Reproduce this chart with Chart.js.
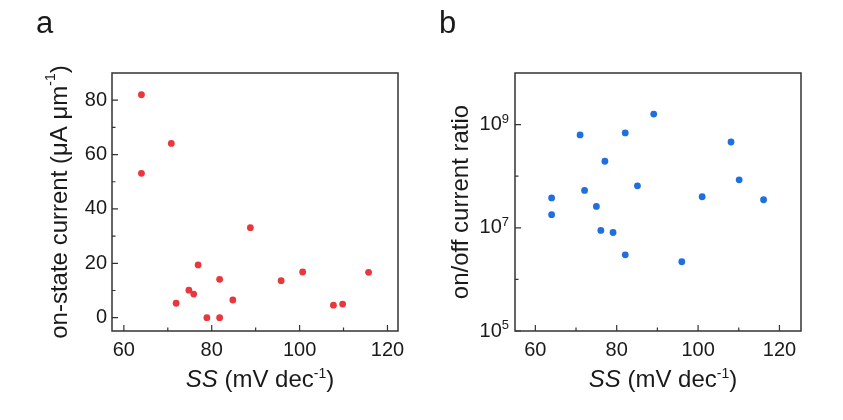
<!DOCTYPE html>
<html>
<head>
<meta charset="utf-8">
<script src="https://cdn.jsdelivr.net/npm/chart.js@4.4.1/dist/chart.umd.min.js"></script>
<style>
  html, body { margin: 0; padding: 0; background: #fff; }
  #wrap { position: relative; width: 843px; height: 420px; }
  canvas { position: absolute; top: 0; }
  #chartA { left: 0; }
  #chartB { left: 421px; }
</style>
</head>
<body>
<div id="wrap">
  <canvas id="chartA" width="421" height="420"></canvas>
  <canvas id="chartB" width="422" height="420"></canvas>
</div>
<script>
// panel a - on-state current vs SS
const ssA = [64, 64, 70.8, 71.9, 74.8, 75.9, 76.9, 78.9, 81.8, 81.8, 84.8, 88.8, 95.8, 100.7, 107.7, 109.8, 115.7];
const ionA = [82, 53.1, 64.1, 5.3, 10.1, 8.7, 19.4, 0, 14.1, 0, 6.5, 33.1, 13.6, 16.8, 4.6, 5.0, 16.7];

// panel b - on/off ratio vs SS
const ssB = [64, 64, 71, 72.1, 75, 76.1, 77.1, 79.1, 82.1, 82.1, 85.1, 89.1, 96, 101, 108.1, 110.1, 116.1];
const ratioB = [3.8e7, 1.8e7, 6.3e8, 5.3e7, 2.6e7, 8.9e6, 1.95e8, 8.1e6, 6.9e8, 3.0e6, 6.5e7, 1.6e9, 2.2e6, 4.0e7, 4.6e8, 8.5e7, 3.5e7];

// ticks
const xTicks = [60, 80, 100, 120];
const xMinor = [70, 90, 110];
const yTicksA = [0, 20, 40, 60, 80];
const yMinorA = [10, 30, 50, 70];
const yTicksB = [1e5, 1e7, 1e9];
const yMinorB = [1e6, 1e8];

const FONT = '"Liberation Sans", Arial, sans-serif';
const INK = '#1a1a1a';
Chart.defaults.font.family = FONT;
Chart.defaults.color = INK;

function runFont(r, size) {
    const s = r.sup ? Math.round(size * 0.6) : size;
    return (r.italic ? 'italic ' : '') + s + 'px ' + FONT;
}

// draws text pieces (italic / superscript) on one line, centred on x
function drawRuns(ctx, runs, x, y, size) {
    let total = 0;
    runs.forEach(r => {
        ctx.font = runFont(r, size);
        r.w = ctx.measureText(r.text).width;
        total += r.w;
    });
    let cx = x - total / 2;
    ctx.textAlign = 'left';
    runs.forEach(r => {
        ctx.font = runFont(r, size);
        ctx.fillText(r.text, cx, r.sup ? y - size * 0.38 : y);
        cx += r.w;
    });
}

const xTitle = [
    { text: 'SS', italic: true },
    { text: ' (mV dec' },
    { text: '-1', sup: true },
    { text: ')' }
];

const framePlugin = {
    id: 'frame',
    afterDraw(chart, args, opts) {
        const { ctx, chartArea: a } = chart;
        const x = chart.scales.x, y = chart.scales.y;
        ctx.save();

        // box
        ctx.strokeStyle = '#333';
        ctx.lineWidth = 1.5;
        ctx.strokeRect(a.left, a.top, a.right - a.left, a.bottom - a.top);

        // inward ticks
        ctx.lineWidth = 1.2;
        ctx.beginPath();
        xTicks.forEach(v => { const p = x.getPixelForValue(v); ctx.moveTo(p, a.bottom); ctx.lineTo(p, a.bottom - 6); });
        xMinor.forEach(v => { const p = x.getPixelForValue(v); ctx.moveTo(p, a.bottom); ctx.lineTo(p, a.bottom - 3.5); });
        opts.yMajor.forEach(v => { const p = y.getPixelForValue(v); ctx.moveTo(a.left, p); ctx.lineTo(a.left + 6, p); });
        opts.yMinor.forEach(v => { const p = y.getPixelForValue(v); ctx.moveTo(a.left, p); ctx.lineTo(a.left + 3.5, p); });
        ctx.stroke();

        ctx.fillStyle = INK;

        // power-of-ten labels for the log axis
        if (opts.logLabels) {
            opts.yMajor.forEach(v => {
                const p = y.getPixelForValue(v);
                const exp = String(Math.round(Math.log10(v)));
                ctx.font = '13px ' + FONT;
                const ew = ctx.measureText(exp).width;
                ctx.font = '20px ' + FONT;
                const right = a.left - 6;
                ctx.textAlign = 'right';
                ctx.textBaseline = 'middle';
                ctx.fillText('10', right - ew, p);
                ctx.textAlign = 'left';
                ctx.textBaseline = 'alphabetic';
                ctx.font = '13px ' + FONT;
                ctx.fillText(exp, right - ew, p - 2);
            });
        }

        // x title
        ctx.textBaseline = 'alphabetic';
        drawRuns(ctx, xTitle, (a.left + a.right) / 2 + 5, 387, 24);

        // y title, rotated
        ctx.save();
        ctx.translate(opts.yTitleX, (a.top + a.bottom) / 2);
        ctx.rotate(-Math.PI / 2);
        ctx.textBaseline = 'middle';
        drawRuns(ctx, opts.yTitle, 0, 0, 24);
        ctx.restore();

        // panel letter
        ctx.font = '31px ' + FONT;
        ctx.textAlign = 'left';
        ctx.textBaseline = 'alphabetic';
        ctx.fillText(opts.letter, opts.letterX, 33);

        ctx.restore();
    }
};

function makeChart(id, xs, ys, color, cfg) {
    const points = xs.map((v, i) => ({ x: v, y: ys[i] }));
    return new Chart(document.getElementById(id), {
        type: 'scatter',
        data: {
            datasets: [{
                data: points,
                backgroundColor: color,
                borderWidth: 0,
                pointRadius: 3.4,
                pointHoverRadius: 3.4
            }]
        },
        options: {
            responsive: false,
            animation: false,
            events: [],
            layout: { padding: { top: 73, right: cfg.padRight, left: 0, bottom: 0 } },
            plugins: {
                legend: { display: false },
                tooltip: { enabled: false },
                frame: cfg.frame
            },
            scales: {
                x: {
                    type: 'linear',
                    min: cfg.xMin,
                    max: cfg.xMax,
                    grid: { display: false, drawTicks: false },
                    border: { display: false },
                    ticks: { font: { size: 20 }, padding: 7, color: INK },
                    afterBuildTicks: axis => { axis.ticks = xTicks.map(v => ({ value: v })); },
                    afterFit: axis => { axis.height = 89; }
                },
                y: cfg.y
            }
        },
        plugins: [framePlugin]
    });
}

makeChart('chartA', ssA, ionA, '#E8383D', {
    padRight: 23,
    xMin: 57.3,
    xMax: 122.4,
    y: {
        type: 'linear',
        min: -4.9,
        max: 90,
        grid: { display: false, drawTicks: false },
        border: { display: false },
        ticks: { font: { size: 20 }, padding: 5, color: INK },
        afterBuildTicks: axis => { axis.ticks = yTicksA.map(v => ({ value: v })); },
        afterFit: axis => { axis.width = 112; }
    },
    frame: {
        yMajor: yTicksA,
        yMinor: yMinorA,
        logLabels: false,
        yTitleX: 60,
        yTitle: [{ text: 'on-state current (\u03bcA \u03bcm' }, { text: '-1', sup: true }, { text: ')' }],
        letter: 'a',
        letterX: 36
    }
});

makeChart('chartB', ssB, ratioB, '#1F6FE0', {
    padRight: 42,
    xMin: 55,
    xMax: 125.3,
    y: {
        type: 'logarithmic',
        min: 1e5,
        max: 1e10,
        grid: { display: false, drawTicks: false },
        border: { display: false },
        ticks: { display: false },
        afterBuildTicks: axis => { axis.ticks = yTicksB.map(v => ({ value: v })); },
        afterFit: axis => { axis.width = 94; }
    },
    frame: {
        yMajor: yTicksB,
        yMinor: yMinorB,
        logLabels: true,
        yTitleX: 40,
        yTitle: [{ text: 'on/off current ratio' }],
        letter: 'b',
        letterX: 18
    }
});
</script>
</body>
</html>
